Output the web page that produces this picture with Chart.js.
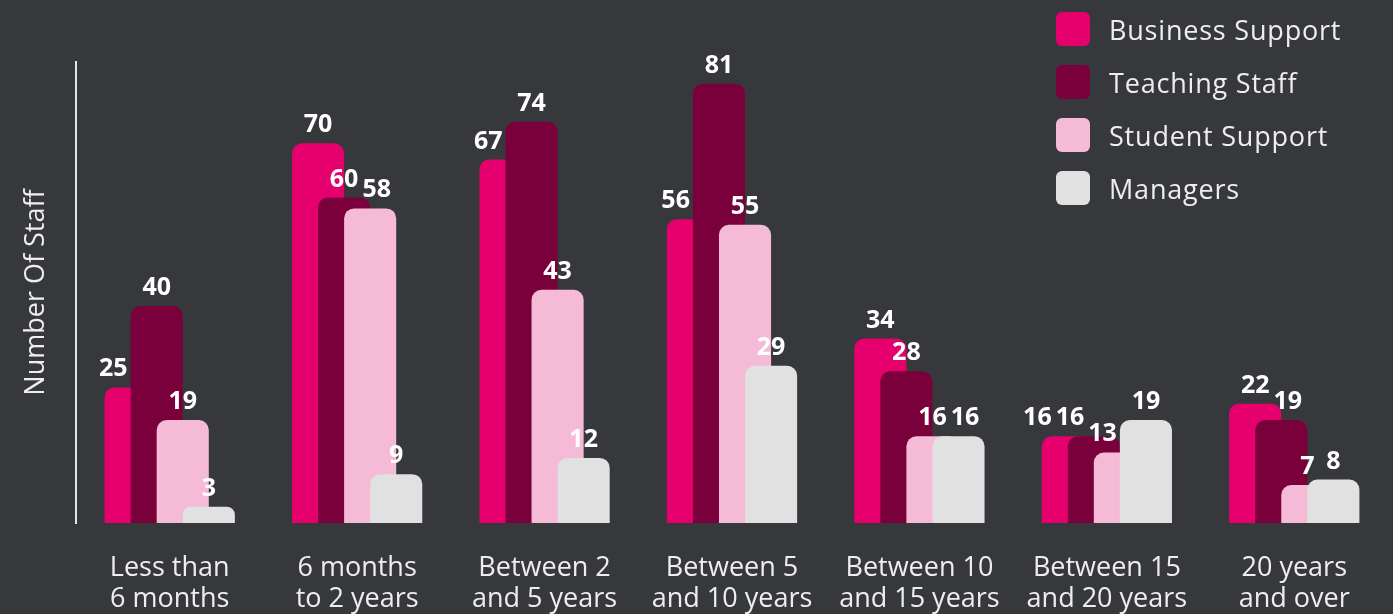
<!DOCTYPE html>
<html>
<head>
<meta charset="utf-8">
<script src="https://cdn.jsdelivr.net/npm/chart.js@4/dist/chart.umd.min.js"></script>
<style>
  html, body { margin: 0; padding: 0; background: #37383c; overflow: hidden; }
  #wrap { position: relative; width: 1393px; height: 614px; }
  #legend {
    position: absolute; left: 1056px; top: 12px;
    font-family: 'Open Sans', sans-serif; font-size: 27px; letter-spacing: 0.8px; color: #eeeeee;
  }
  .item { display: flex; align-items: center; height: 34px; margin-bottom: 19px; }
  .swatch { width: 34px; height: 34px; border-radius: 6px; margin-right: 19px; }
</style>
</head>
<body>
<div id="wrap">
  <canvas id="chart" width="1393" height="614"></canvas>
  <div id="legend"></div>
</div>
<script>
const categories = [
  ['Less than', '6 months'],
  ['6 months', 'to 2 years'],
  ['Between 2', 'and 5 years'],
  ['Between 5', 'and 10 years'],
  ['Between 10', 'and 15 years'],
  ['Between 15', 'and 20 years'],
  ['20 years', 'and over']
];
const seriesNames = ['Business Support', 'Teaching Staff', 'Student Support', 'Managers'];
const businessSupport = [25, 70, 67, 56, 34, 16, 22];
const teachingStaff = [40, 60, 74, 81, 28, 16, 19];
const studentSupport = [19, 58, 43, 55, 16, 13, 7];
const managers = [3, 9, 12, 29, 16, 19, 8];
const seriesColors = ['#e5006d', '#7a003c', '#f5bbd6', '#e1e1e1'];

const FONT = "'Open Sans', sans-serif";
const TEXT = '#eeeeee';

const values = [businessSupport, teachingStaff, studentSupport, managers];

// bars overlap by half; later series should sit on top of earlier ones
const stackOnTop = {
  id: 'stackOnTop',
  beforeDatasetsDraw(chart) {
    chart.ctx.save();
    chart.ctx.globalCompositeOperation = 'destination-over';
  },
  afterDatasetsDraw(chart) {
    chart.ctx.restore();
  }
};

function clash(a, b) {
  return a.top < b.bottom + 2 && a.bottom > b.top - 2 && a.x - a.w / 2 < b.x + b.w / 2 + 4 && a.x + a.w / 2 > b.x - b.w / 2 - 4;
}

// value labels above each bar, nudged so they don't run into neighbours
const valueLabels = {
  id: 'valueLabels',
  afterDatasetsDraw(chart) {
    const ctx = chart.ctx;
    ctx.save();
    ctx.font = 'bold 25px ' + FONT;
    ctx.fillStyle = '#ffffff';
    ctx.textAlign = 'center';
    ctx.textBaseline = 'alphabetic';
    const metas = chart.data.datasets.map((d, i) => chart.getDatasetMeta(i));
    for (let j = 0; j < categories.length; j++) {
      const labels = metas.map((meta, i) => {
        const bar = meta.data[j];
        const text = String(values[i][j]);
        const m = ctx.measureText(text);
        const bottom = bar.y - 11;
        const lbl = { text, x: bar.x, w: m.width, bottom, top: bottom - m.actualBoundingBoxAscent, maxX: Infinity };
        // keep clear of a taller bar drawn over this one
        const next = metas[i + 1] && metas[i + 1].data[j];
        if (next && next.y < bottom + 4) {
          lbl.maxX = next.x - next.width / 2 - 3 - lbl.w / 2;
        }
        lbl.x = Math.min(lbl.x, lbl.maxX);
        return lbl;
      });
      // push right, then spread back to the left where needed
      for (let i = 1; i < labels.length; i++) {
        const a = labels[i], b = labels[i - 1];
        if (clash(a, b)) a.x = Math.min(b.x + b.w / 2 + 4 + a.w / 2, a.maxX);
      }
      for (let i = labels.length - 2; i >= 0; i--) {
        const a = labels[i], b = labels[i + 1];
        if (clash(a, b)) a.x = b.x - b.w / 2 - 4 - a.w / 2;
      }
      labels.forEach((l) => ctx.fillText(l.text, l.x, l.bottom));
    }
    ctx.restore();
  }
};

new Chart(document.getElementById('chart'), {
  type: 'bar',
  data: {
    labels: categories,
    datasets: seriesNames.map((name, i) => ({
      label: name,
      data: values[i],
      backgroundColor: seriesColors[i]
    }))
  },
  options: {
    responsive: false,
    animation: false,
    layout: { padding: { top: 62, right: 5, left: 0, bottom: 0 } },
    datasets: {
      bar: {
        categoryPercentage: 0.556,
        barPercentage: 2,
        borderRadius: 10,
        borderSkipped: 'bottom'
      }
    },
    plugins: {
      legend: { display: false },
      tooltip: { enabled: false }
    },
    scales: {
      x: {
        grid: { display: false },
        border: { display: false },
        ticks: {
          color: TEXT,
          font: { family: FONT, size: 27, lineHeight: 1.15 },
          padding: 22,
          maxRotation: 0,
          autoSkip: false
        },
        afterFit: (scale) => { scale.height = 91; }
      },
      y: {
        min: 0,
        max: 85,
        grid: { display: false, drawTicks: false },
        border: { display: true, color: '#e4e4e4', width: 2 },
        ticks: { display: false },
        title: {
          display: true,
          text: 'Number Of Staff',
          color: TEXT,
          font: { family: FONT, size: 27 },
          padding: { top: 20, bottom: 0 }
        },
        afterFit: (scale) => { scale.width = 76; }
      }
    }
  },
  plugins: [stackOnTop, valueLabels]
});

const legend = document.getElementById('legend');
seriesNames.forEach((name, i) => {
  const item = document.createElement('div');
  item.className = 'item';
  item.innerHTML = '<span class="swatch" style="background:' + seriesColors[i] + '"></span><span>' + name + '</span>';
  legend.appendChild(item);
});
</script>
</body>
</html>
